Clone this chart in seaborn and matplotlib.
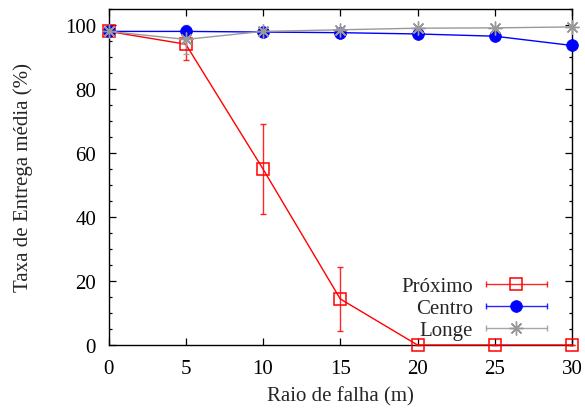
import matplotlib
matplotlib.use("Agg")
import matplotlib.pyplot as plt
from matplotlib.lines import Line2D
from matplotlib.legend_handler import HandlerBase
from matplotlib.ticker import MultipleLocator
import seaborn as sns

# Failure radius (m)
raio = [0, 5, 10, 15, 20, 25, 30]

# Average delivery rate (%) and error half-widths per scenario
proximo = [98.0, 94.0, 55.0, 14.4, 0.0, 0.0, 0.0]
proximo_err = [0.5, 5.0, 14.0, 10.0, 0.0, 0.0, 0.0]
centro = [98.0, 98.0, 97.8, 97.6, 97.2, 96.5, 93.6]
centro_err = [0.5, 1.5, 0.5, 0.5, 0.5, 0.5, 0.8]
longe = [98.0, 95.5, 98.0, 98.5, 99.0, 99.1, 99.4]
longe_err = [0.5, 4.5, 0.5, 0.4, 0.3, 0.3, 0.3]

labels = ["Próximo", "Centro", "Longe"]
xticks = [0, 5, 10, 15, 20, 25, 30]
yticks = [0, 20, 40, 60, 80, 100]

sns.set_style("ticks")
plt.rcParams["font.family"] = ["Liberation Serif", "DejaVu Serif"]

FS = 15
fig = plt.figure(figsize=(5.85, 4.1), dpi=100)
ax = fig.add_axes([108.5 / 585, 64 / 410, 463.5 / 585, 336 / 410])

RED, BLUE, GRAY = "#ff0000", "#0000ff", "#999999"

series = [
    (proximo, proximo_err, RED, dict(marker="s", markersize=9, markerfacecolor="none",
                                     markeredgecolor=RED, markeredgewidth=1.1)),
    (centro, centro_err, BLUE, dict(marker="o", markersize=8.5, markerfacecolor=BLUE,
                                    markeredgecolor=BLUE, markeredgewidth=0.5)),
    (longe, longe_err, GRAY, dict(marker=(8, 2, 0), markersize=10, markerfacecolor=GRAY,
                                  markeredgecolor=GRAY, markeredgewidth=1.0)),
]

for (vals, errs, color, mk), lab in zip(series, labels):
    ax.errorbar(raio, vals, yerr=errs, fmt="none", ecolor=color, elinewidth=1.0,
                capsize=2, capthick=1.0, alpha=0.85, clip_on=False, zorder=3)
    sns.lineplot(x=raio, y=vals, ax=ax, color=color, linewidth=1.0, clip_on=False,
                 zorder=4, legend=False, **mk)

ax.set_xlim(0, 30)
ax.set_ylim(0, 105)
ax.set_xticks(xticks)
ax.set_yticks(yticks)
ax.yaxis.set_minor_locator(MultipleLocator(5))
ax.tick_params(axis="both", which="both", direction="in", top=True, right=True,
               labelsize=FS, colors="black")
ax.tick_params(axis="both", which="major", length=5, width=0.9)
ax.tick_params(axis="both", which="minor", length=2.5, width=0.9)
ax.tick_params(axis="x", pad=10)
ax.tick_params(axis="y", pad=9)
for s in ax.spines.values():
    s.set_visible(True)
    s.set_linewidth(1.0)
    s.set_color("black")

ax.set_xlabel("Raio de falha (m)", fontsize=FS, labelpad=6)
ax.set_ylabel("Taxa de Entrega média (%)", fontsize=FS, labelpad=23)


class HandlerHErr(HandlerBase):
    """Legend key: horizontal line with end caps and the series marker in the middle."""

    def create_artists(self, legend, orig_handle, xdescent, ydescent, width, height,
                       fontsize, trans):
        y = height / 2.0 - ydescent
        x0 = -xdescent
        x1 = x0 + width
        c = orig_handle.get_color()
        line = Line2D([x0, x1], [y, y], color=c, lw=1.0, alpha=0.85, transform=trans)
        caps = Line2D([x0, x1], [y, y], ls="none", marker="|", markersize=5,
                      markeredgewidth=1.0, color=c, alpha=0.85, transform=trans)
        mk = Line2D([(x0 + x1) / 2.0], [y], ls="none", marker=orig_handle.get_marker(),
                    markersize=orig_handle.get_markersize(),
                    markerfacecolor=orig_handle.get_markerfacecolor(),
                    markeredgecolor=orig_handle.get_markeredgecolor(),
                    markeredgewidth=orig_handle.get_markeredgewidth(), transform=trans)
        return [line, caps, mk]


handles = [Line2D([], [], color=color, **mk) for (_, _, color, mk) in series]
ax.legend(handles, labels, handler_map={Line2D: HandlerHErr()},
          loc="lower right", bbox_to_anchor=(547 / 585, 69 / 410),
          bbox_transform=fig.transFigure, frameon=False, fontsize=FS,
          markerfirst=False, handlelength=2.95, handletextpad=0.6,
          labelspacing=0.11, borderpad=0, borderaxespad=0)

fig.savefig("out.png", dpi=100)
